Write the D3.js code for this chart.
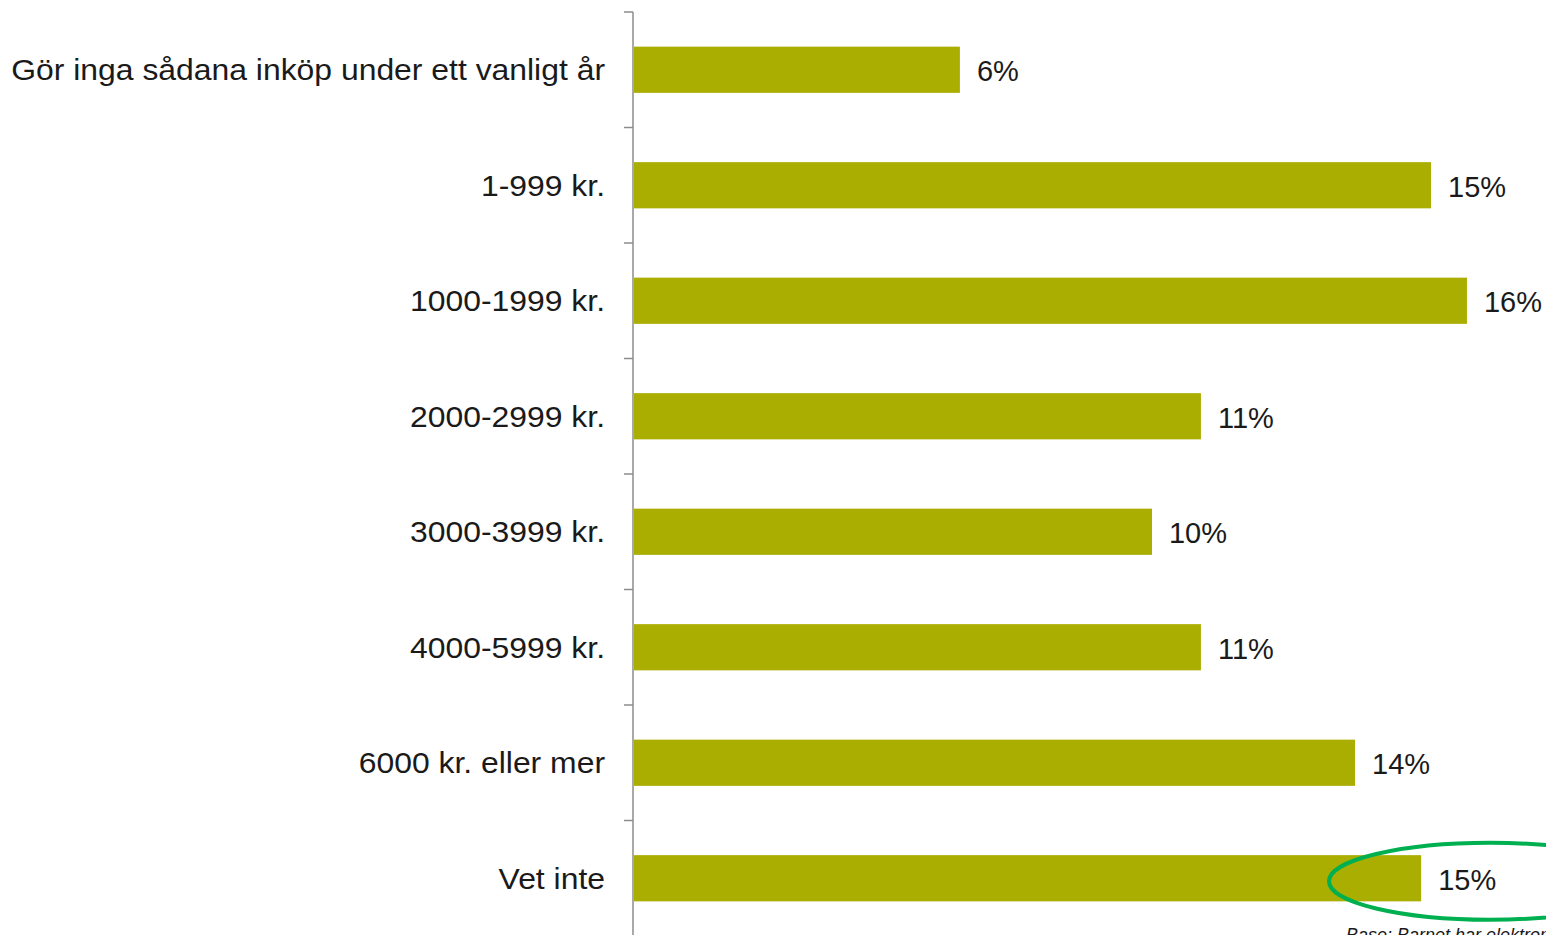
<!DOCTYPE html>
<html>
<head>
<meta charset="utf-8">
<script src="https://cdn.jsdelivr.net/npm/d3@7"></script>
<style>
  html, body { margin: 0; padding: 0; background: #fff; overflow: hidden; }
  svg { display: block; }
</style>
</head>
<body>
<svg id="viz"></svg>
<script>
var width = 1546;
var height = 935;

// chart data
var categories = [
  "Gör inga sådana inköp under ett vanligt år",
  "1-999 kr.",
  "1000-1999 kr.",
  "2000-2999 kr.",
  "3000-3999 kr.",
  "4000-5999 kr.",
  "6000 kr. eller mer",
  "Vet inte"
];
var values = [6.26, 15.31, 16.0, 10.89, 9.95, 10.89, 13.85, 15.12];
var baseNote = "Base: Barnet har elektronik";

var svg = d3.select("#viz").attr("width", width).attr("height", height);

var x = d3.scaleLinear()
  .domain([0, 20])
  .range([634, 634 + 52.06 * 20]);

var y = d3.scaleBand()
  .domain(categories)
  .range([12, 936])
  .paddingInner(0.6)
  .paddingOuter(0.3);

svg.append("g").attr("class", "bars")
  .selectAll("rect")
  .data(categories)
  .enter()
  .append("rect")
  .attr("x", x(0))
  .attr("y", function(d) { return y(d); })
  .attr("width", function(d, i) { return x(values[i]) - x(0); })
  .attr("height", y.bandwidth())
  .attr("fill", "#a9ae00");

// value labels
svg.append("g").attr("class", "labels")
  .selectAll("text")
  .data(categories)
  .enter()
  .append("text")
  .attr("x", function(d, i) { return x(values[i]) + 17; })
  .attr("y", function(d) { return y(d) + y.bandwidth() / 2 + 1; })
  .attr("dy", "0.36em")
  .text(function(d, i) { return Math.round(values[i]) + "%"; })
  .style("fill", "#1a1a1a")
  .style("font-family", "Liberation Sans, Arial")
  .style("font-size", "29px");

// category axis, ticks sit between the bands
var axis = svg.append("g").attr("class", "axis");
axis.append("line")
  .attr("x1", 633).attr("x2", 633)
  .attr("y1", y.range()[0]).attr("y2", y.range()[1])
  .attr("stroke", "#8c8c8c")
  .attr("stroke-width", 1.5);

var tickYs = d3.range(categories.length + 1).map(function(i) {
  return y.range()[0] + i * y.step();
});
axis.selectAll("line.tick")
  .data(tickYs)
  .enter()
  .append("line")
  .attr("class", "tick")
  .attr("x1", 624).attr("x2", 633)
  .attr("y1", function(d) { return d; }).attr("y2", function(d) { return d; })
  .attr("stroke", "#8c8c8c")
  .attr("stroke-width", 1.5);

axis.selectAll("text")
  .data(categories)
  .enter()
  .append("text")
  .attr("transform", function(d) {
    return "translate(605," + (y(d) + y.bandwidth() / 2) + ") scale(1.1,1)";
  })
  .attr("dy", "0.36em")
  .attr("text-anchor", "end")
  .text(function(d) { return d; })
  .style("fill", "#1a1a1a")
  .style("font-family", "Liberation Sans, Arial")
  .style("font-size", "29px");

// highlight ellipse around the last label
var last = categories[categories.length - 1];
svg.append("ellipse")
  .attr("cx", 1490)
  .attr("cy", y(last) + y.bandwidth() / 2 + 3)
  .attr("rx", 161)
  .attr("ry", 38.5)
  .attr("fill", "none")
  .attr("stroke", "#00b050")
  .attr("stroke-width", 4);

// base note, cut off by the page edge like the original
svg.append("text")
  .attr("x", 1346)
  .attr("y", 941)
  .text(baseNote)
  .style("fill", "#1a1a1a")
  .style("font-family", "Liberation Sans, Arial")
  .style("font-style", "italic")
  .style("font-size", "18px");
</script>
</body>
</html>
